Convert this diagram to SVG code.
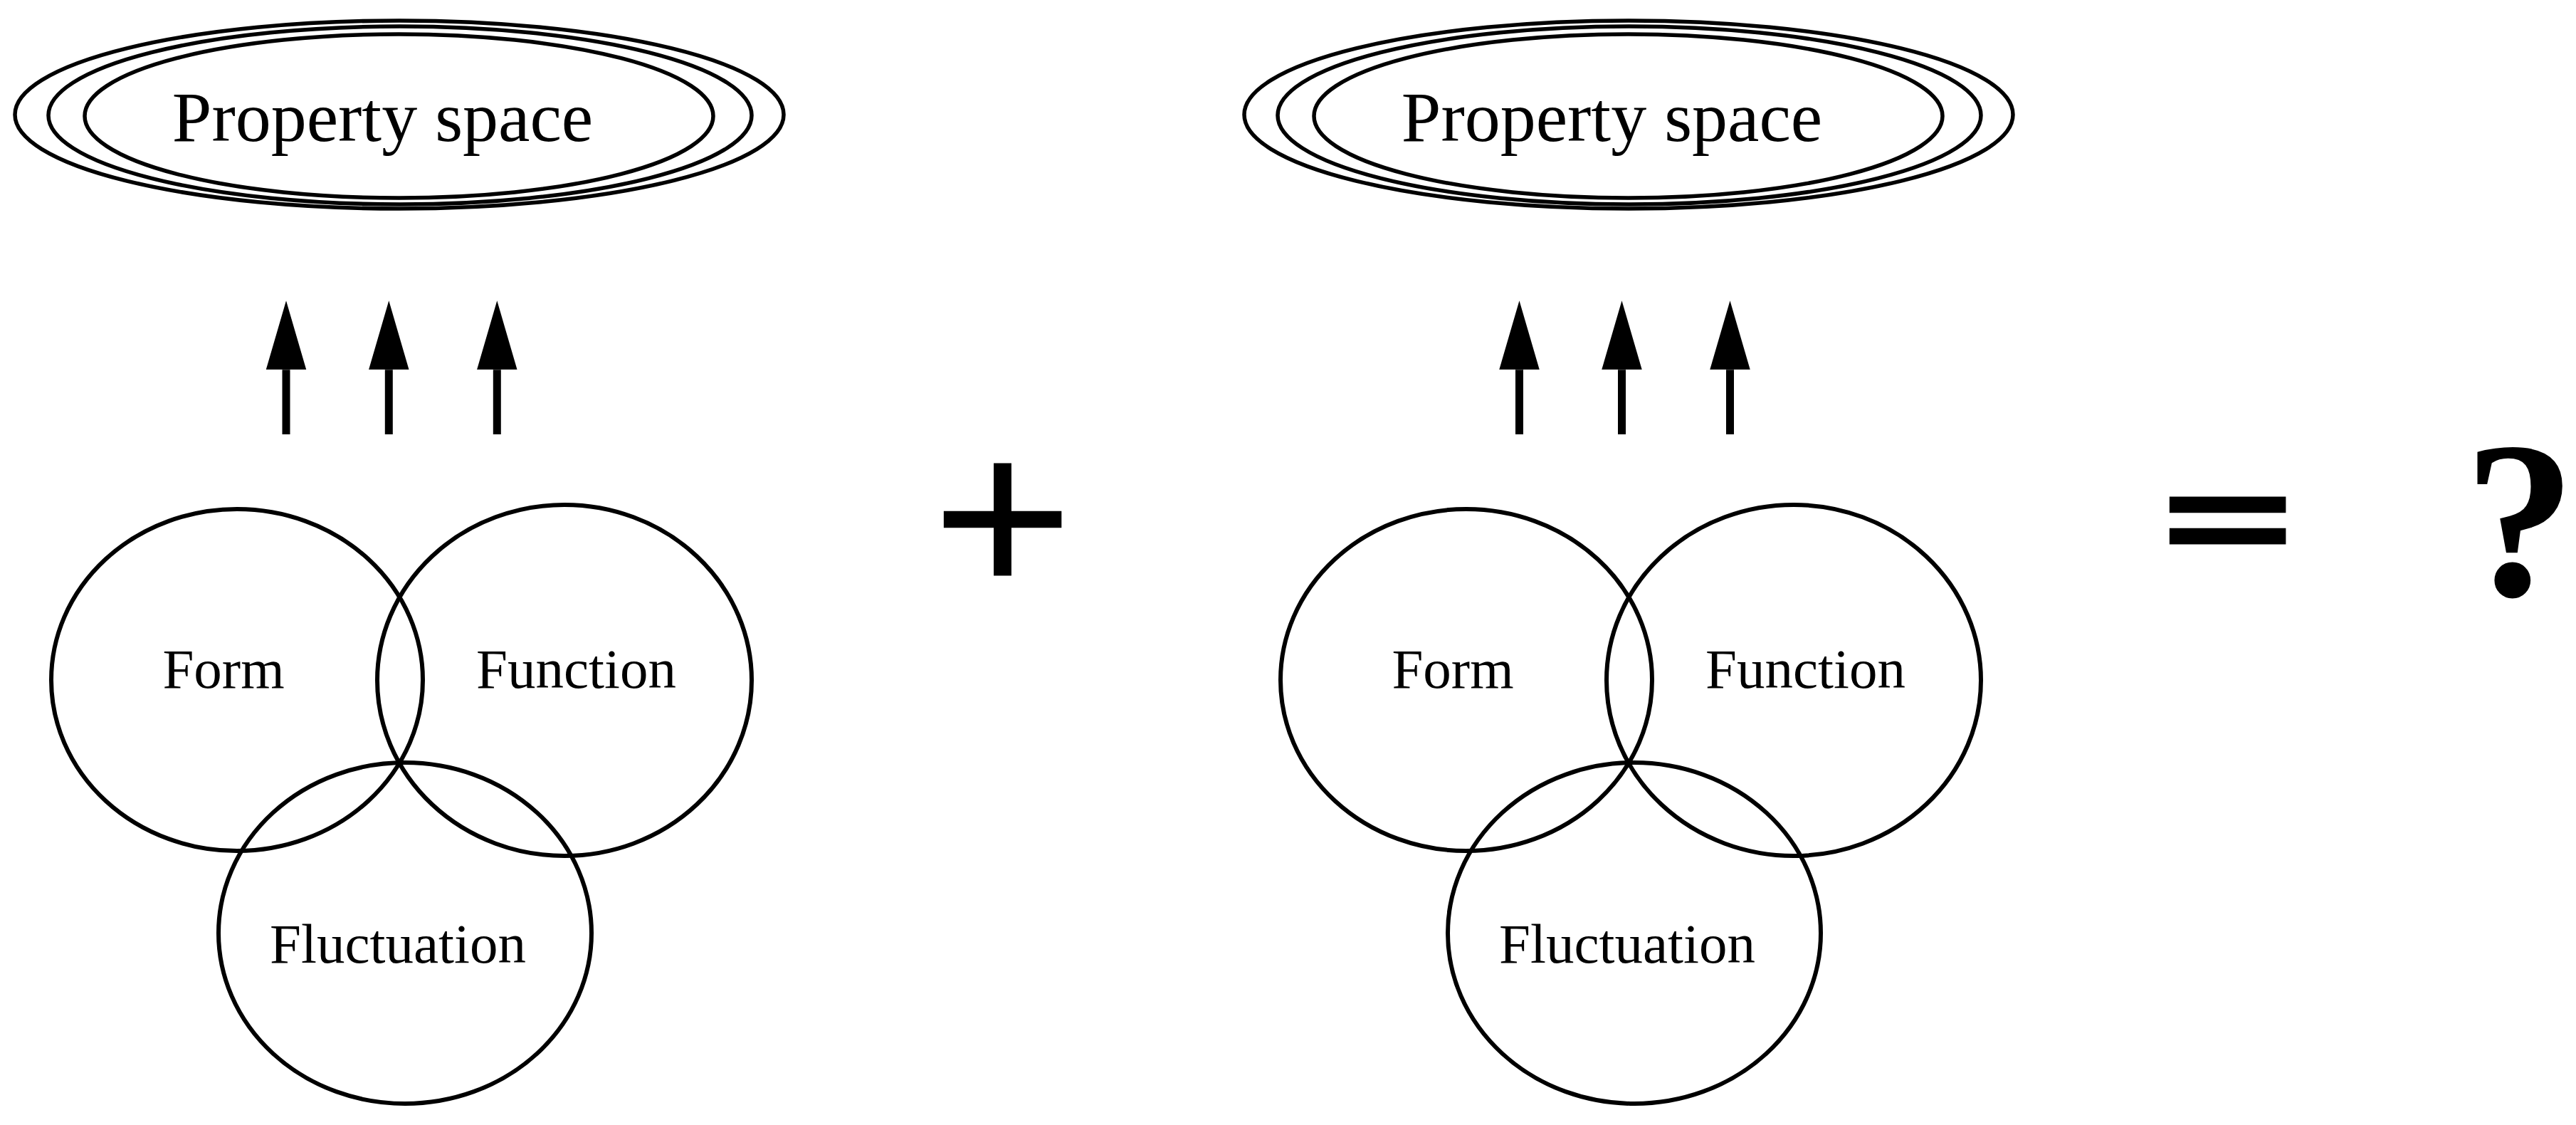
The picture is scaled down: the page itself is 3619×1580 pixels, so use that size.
<svg xmlns="http://www.w3.org/2000/svg" width="3619" height="1580" viewBox="0 0 3619 1580">
<style>
.ring{fill:none;stroke:#000;stroke-width:5.5}
.venn{fill:none;stroke:#000;stroke-width:6}
.title{font-family:"Liberation Serif","Times New Roman",serif;font-size:100px;text-anchor:middle;fill:#000}
.lbl{font-family:"Liberation Serif","Times New Roman",serif;font-size:79px;text-anchor:middle;fill:#000}
.op{font-family:"Liberation Serif","Times New Roman",serif;font-weight:bold;text-anchor:middle;fill:#000}
.arrow{stroke:#000;stroke-width:11;fill:none;marker-end:url(#head)}
</style>
<defs>
<marker id="head" markerUnits="userSpaceOnUse" viewBox="0 0 97 57" refX="0" refY="28.3" markerWidth="97" markerHeight="57" orient="auto">
<path d="M0,0 L97,28.3 L0,56.6 Z" fill="#000"/>
</marker>
</defs>
<rect width="3619" height="1580" fill="#fff"/>

<g id="left">
<g id="left-property-space">
<ellipse class="ring" cx="561" cy="161" rx="540" ry="132"/>
<ellipse class="ring" cx="562" cy="162" rx="494" ry="125"/>
<ellipse class="ring" cx="560.5" cy="163" rx="441.5" ry="115"/>
<text class="title" x="537.5" y="198">Property space</text>
</g>
<g id="left-form">
<ellipse class="venn" cx="333" cy="955" rx="261" ry="240"/>
<text class="lbl" x="314" y="966">Form</text>
</g>
<g id="left-function">
<ellipse class="venn" cx="793" cy="955.5" rx="263" ry="246.5"/>
<text class="lbl" x="809.5" y="966">Function</text>
</g>
<g id="left-fluctuation">
<ellipse class="venn" cx="569" cy="1310.5" rx="262" ry="239.5"/>
<text class="lbl" x="559" y="1352">Fluctuation</text>
</g>
</g>

<g id="right" transform="translate(1727,0)">
<g id="right-property-space">
<ellipse class="ring" cx="561" cy="161" rx="540" ry="132"/>
<ellipse class="ring" cx="562" cy="162" rx="494" ry="125"/>
<ellipse class="ring" cx="560.5" cy="163" rx="441.5" ry="115"/>
<text class="title" x="537.5" y="198">Property space</text>
</g>
<g id="right-form">
<ellipse class="venn" cx="333" cy="955" rx="261" ry="240"/>
<text class="lbl" x="314" y="966">Form</text>
</g>
<g id="right-function">
<ellipse class="venn" cx="793" cy="955.5" rx="263" ry="246.5"/>
<text class="lbl" x="809.5" y="966">Function</text>
</g>
<g id="right-fluctuation">
<ellipse class="venn" cx="569" cy="1310.5" rx="262" ry="239.5"/>
<text class="lbl" x="559" y="1352">Fluctuation</text>
</g>
</g>

<g id="connectors">
<line class="arrow" x1="402" y1="610" x2="402" y2="519.3"/>
<line class="arrow" x1="546.3" y1="610" x2="546.3" y2="519.3"/>
<line class="arrow" x1="698.3" y1="610" x2="698.3" y2="519.3"/>
<line class="arrow" x1="2134.5" y1="610" x2="2134.5" y2="519.3"/>
<line class="arrow" x1="2278.5" y1="610" x2="2278.5" y2="519.3"/>
<line class="arrow" x1="2430.5" y1="610" x2="2430.5" y2="519.3"/>
</g>

<g id="plus"><text class="op" transform="translate(1408.5,842) scale(1.05,1)" x="0" y="0" font-size="339">+</text></g>
<g id="equals"><text class="op" transform="translate(3130.5,804.6) scale(0.97,0.654)" x="0" y="0" font-size="339" stroke="#000" stroke-width="11" stroke-linejoin="miter">=</text></g>
<g id="question"><text class="op" x="3540" y="836" font-size="314">?</text></g>
</svg>
